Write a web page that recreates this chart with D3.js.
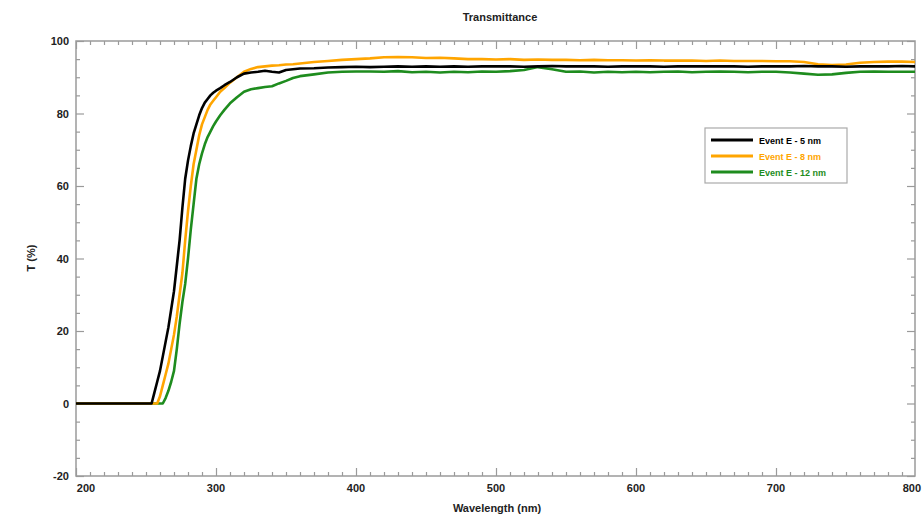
<!DOCTYPE html>
<html><head><meta charset="utf-8">
<script src="https://cdn.jsdelivr.net/npm/d3@7/dist/d3.min.js"></script>
<style>body{margin:0;background:#fff;} svg{display:block;font-family:"Liberation Sans",Arial,sans-serif;}</style>
</head><body>
<script>
const wavelengths = [200,250,254,256,258,260,262,264,266,268,270,272,274,276,278,280,282,284,286,288,290,292,294,296,298,300,303,306,310,315,320,325,330,335,340,345,350,355,360,370,380,390,400,410,420,430,440,450,460,470,480,490,500,510,520,530,540,550,560,570,580,590,600,610,620,630,640,650,660,670,680,690,700,710,720,730,740,750,760,770,780,790,800];
const black5 = [0,0,0,3,6,9,13,17,21,26,31,38,45,54,62,67,71,74.5,77,79.5,81.5,83,84,85,85.7,86.3,87,87.8,88.7,90,91,91.3,91.5,91.8,91.5,91.3,92,92.2,92.4,92.5,92.7,92.8,92.9,92.8,92.9,93,92.9,93,92.9,93,92.9,93,93,93,92.9,93,93.1,93,93,93,92.9,93,93,93,92.9,93,93,93,93,93,92.9,93,93,93,93.1,93,93,92.9,93,93,93,93.1,93];
const orange8 = [0,0,0,0,0,2,5,8,11,15,19,24,30,36,45,53,60,66,70,74,77,79,81,82.5,83.5,84.5,86,87,88.5,90,91.5,92.3,92.8,93,93.2,93.3,93.5,93.6,93.8,94.2,94.5,94.8,95,95.2,95.5,95.6,95.5,95.3,95.4,95.2,95,95,94.9,95,94.8,94.9,94.8,94.8,94.7,94.8,94.7,94.7,94.6,94.7,94.6,94.6,94.6,94.5,94.6,94.5,94.5,94.5,94.4,94.4,94.2,93.6,93.4,93.5,94,94.2,94.3,94.3,94.2];
const green12 = [0,0,0,0,0,0,0,1.5,3.5,6,9,15,22,28,33,40,48,55,62,66,69,71.5,73.5,75,76.5,77.8,79.5,81,82.8,84.5,86,86.7,87,87.3,87.5,88.3,89,89.8,90.3,90.8,91.3,91.5,91.6,91.6,91.5,91.7,91.4,91.5,91.3,91.5,91.4,91.6,91.5,91.7,92,92.8,92.2,91.5,91.6,91.3,91.5,91.4,91.5,91.4,91.5,91.6,91.4,91.5,91.6,91.5,91.4,91.5,91.5,91.3,91,90.7,90.8,91.2,91.5,91.6,91.5,91.5,91.5];
const seriesNames = ["Event E - 5 nm","Event E - 8 nm","Event E - 12 nm"];
const seriesColors = ["#000000","#ffa500","#1e8c1e"];
const xTicks = [200,300,400,500,600,700,800];
const yTicks = [-20,0,20,40,60,80,100];

const W=922,H=521;
const L=76,R=915,T=41,B=476;
const svg=d3.select("body").append("svg").attr("width",W).attr("height",H);
const x=d3.scaleLinear().domain([200,800]).range([L,L+840]);
const y=d3.scaleLinear().domain([-20,100]).range([B,T]);

svg.append("clipPath").attr("id","c").append("rect").attr("x",L).attr("y",T).attr("width",R-L).attr("height",B-T);

const axCol="#9a9a9a";
const minorX=d3.range(200,801,10).filter(v=>v%100!==0);
const minorY=d3.range(-20,101,5).filter(v=>v%20!==0);
const g=svg.append("g");
function axisSet(axisFn,scale,ticks,size,tr){
  g.append("g").attr("transform",tr).call(axisFn(scale).tickValues(ticks).tickSize(size).tickFormat("")).call(s=>{s.select(".domain").remove();s.selectAll("line").attr("stroke",axCol).attr("stroke-width",1.2);});
}
axisSet(d3.axisBottom,x,xTicks.filter(v=>v<800),-8,`translate(0,${B})`);
axisSet(d3.axisBottom,x,minorX,-4,`translate(0,${B})`);
axisSet(d3.axisTop,x,xTicks.filter(v=>v<800),-8,`translate(0,${T})`);
axisSet(d3.axisTop,x,minorX,-4,`translate(0,${T})`);
axisSet(d3.axisLeft,y,yTicks,-8,`translate(${L},0)`);
axisSet(d3.axisLeft,y,minorY,-4,`translate(${L},0)`);
axisSet(d3.axisRight,y,yTicks,-8,`translate(${R},0)`);
axisSet(d3.axisRight,y,minorY,-4,`translate(${R},0)`);
g.append("rect").attr("x",L).attr("y",T).attr("width",R-L).attr("height",B-T).attr("fill","none").attr("stroke",axCol).attr("stroke-width",1.5);

svg.append("g").selectAll("text").data(yTicks).join("text")
  .attr("x",L-7).attr("y",d=>y(d)+4).attr("text-anchor","end")
  .attr("font-size",11).attr("font-weight","bold").attr("fill","#222").text(d=>d);
svg.append("g").selectAll("text").data(xTicks).join("text")
  .attr("x",d=>d===200?x(d)+10:(d===800?W-1:x(d))).attr("y",B+16)
  .attr("text-anchor",d=>d===800?"end":"middle")
  .attr("font-size",11).attr("font-weight","bold").attr("fill","#222").text(d=>d);

svg.append("text").attr("x",500).attr("y",21).attr("text-anchor","middle").attr("font-size",11).attr("font-weight","bold").attr("fill","#222").text("Transmittance");
svg.append("text").attr("x",497).attr("y",512).attr("text-anchor","middle").attr("font-size",11).attr("font-weight","bold").attr("fill","#222").text("Wavelength (nm)");
svg.append("text").attr("transform","translate(35,258) rotate(-90)").attr("text-anchor","middle").attr("font-size",11).attr("font-weight","bold").attr("fill","#222").text("T (%)");

const allSeries=[black5,orange8,green12];
const line=d3.line().x((d,i)=>x(wavelengths[i])).y(d=>y(d));
const drawOrder=[2,1,0];
const lg=svg.append("g").attr("clip-path","url(#c)");
drawOrder.forEach(k=>{
  lg.append("path").datum(allSeries[k]).attr("d",line).attr("fill","none").attr("stroke",seriesColors[k]).attr("stroke-width",2.6).attr("stroke-linejoin","round");
});

const leg=svg.append("g");
leg.append("rect").attr("x",705).attr("y",128).attr("width",142).attr("height",55).attr("fill","#fff").attr("stroke","#aaa").attr("stroke-width",1.2);
seriesNames.forEach((n,i)=>{
  const yy=140+i*16;
  leg.append("line").attr("x1",711).attr("x2",753).attr("y1",yy).attr("y2",yy).attr("stroke",seriesColors[i]).attr("stroke-width",3);
  leg.append("text").attr("x",759).attr("y",yy+3.5).attr("font-size",9).attr("font-weight","bold").attr("fill",seriesColors[i]).text(n);
});
</script>
</body></html>
